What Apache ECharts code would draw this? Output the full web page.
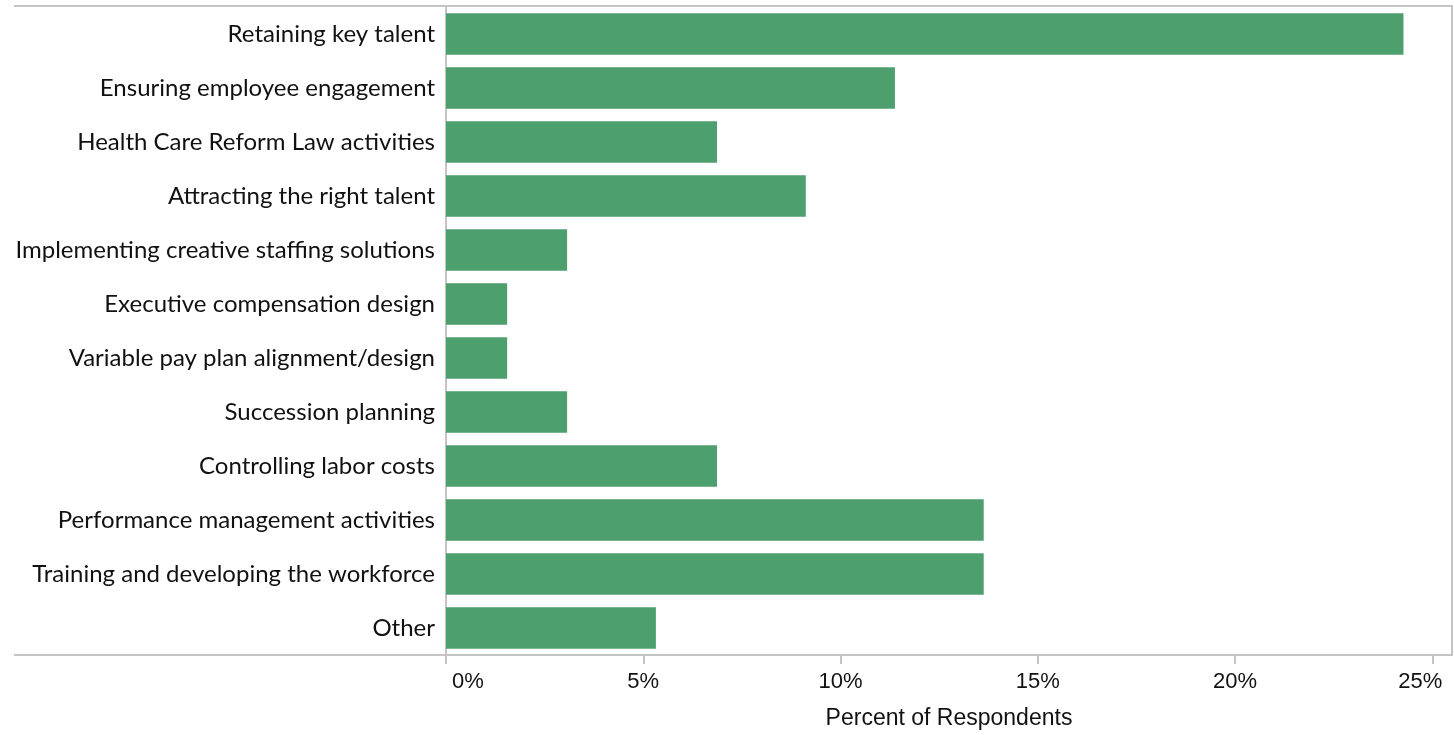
<!DOCTYPE html>
<html>
<head>
<meta charset="utf-8">
<script src="https://cdn.jsdelivr.net/npm/echarts@6/dist/echarts.min.js"></script>
<style>
html,body{margin:0;padding:0;background:#fff;}
#chart{width:1454px;height:735px;}
</style>
</head>
<body>
<div id="chart"></div>
<script>
const categories = [
  "Retaining key talent",
  "Ensuring employee engagement",
  "Health Care Reform Law activities",
  "Attracting the right talent",
  "Implementing creative staffing solutions",
  "Executive compensation design",
  "Variable pay plan alignment/design",
  "Succession planning",
  "Controlling labor costs",
  "Performance management activities",
  "Training and developing the workforce",
  "Other"
];
const percentValues = [24.27, 11.38, 6.87, 9.12, 3.07, 1.55, 1.55, 3.07, 6.87, 13.63, 13.63, 5.32];
const tickValues = [0, 5, 10, 15, 20, 25];
const axisTitle = "Percent of Respondents";

const chart = echarts.init(document.getElementById('chart'), null, {renderer: 'canvas'});
const lineColor = '#c4c4c4';
const sans = 'Liberation Sans, Arial, sans-serif';
chart.setOption({
  animation: false,
  backgroundColor: '#fff',
  grid: {left: 446, right: 2, top: 7, bottom: 80, containLabel: false},
  xAxis: {
    type: 'value',
    min: 0,
    max: 25.5,
    interval: 5,
    splitLine: {show: false},
    axisLine: {show: true, lineStyle: {color: lineColor, width: 2}},
    axisTick: {show: true, length: 9, customValues: tickValues, lineStyle: {color: lineColor, width: 2}},
    axisLabel: {
      customValues: tickValues,
      margin: 16,
      color: '#111',
      fontFamily: sans,
      fontSize: 22,
      formatter: function (v) {
        if (v === 0) return '{first|0%}';
        if (v === 25) return '{last|25%}';
        return v + '%';
      },
      rich: {
        first: {padding: [0, 0, 0, 44], fontSize: 22, color: '#111', fontFamily: sans},
        last: {padding: [0, 24, 0, 0], fontSize: 22, color: '#111', fontFamily: sans}
      }
    },
    name: axisTitle,
    nameLocation: 'middle',
    nameGap: 52,
    nameTextStyle: {color: '#111', fontSize: 23, fontFamily: sans}
  },
  yAxis: {
    type: 'category',
    data: categories,
    inverse: true,
    axisLine: {show: true, lineStyle: {color: lineColor, width: 2}},
    axisTick: {show: false},
    axisLabel: {
      margin: 11,
      color: '#111',
      fontFamily: 'Lato, sans-serif',
      fontSize: 24
    }
  },
  graphic: [{
    type: 'polyline',
    silent: true,
    shape: {points: [[14, 6], [1452, 6], [1452, 655], [14, 655]]},
    style: {stroke: lineColor, lineWidth: 2, fill: null}
  }],
  series: [{
    type: 'bar',
    data: percentValues,
    barCategoryGap: '23.5%',
    itemStyle: {color: '#4e9f6e'}
  }]
});
</script>
</body>
</html>
